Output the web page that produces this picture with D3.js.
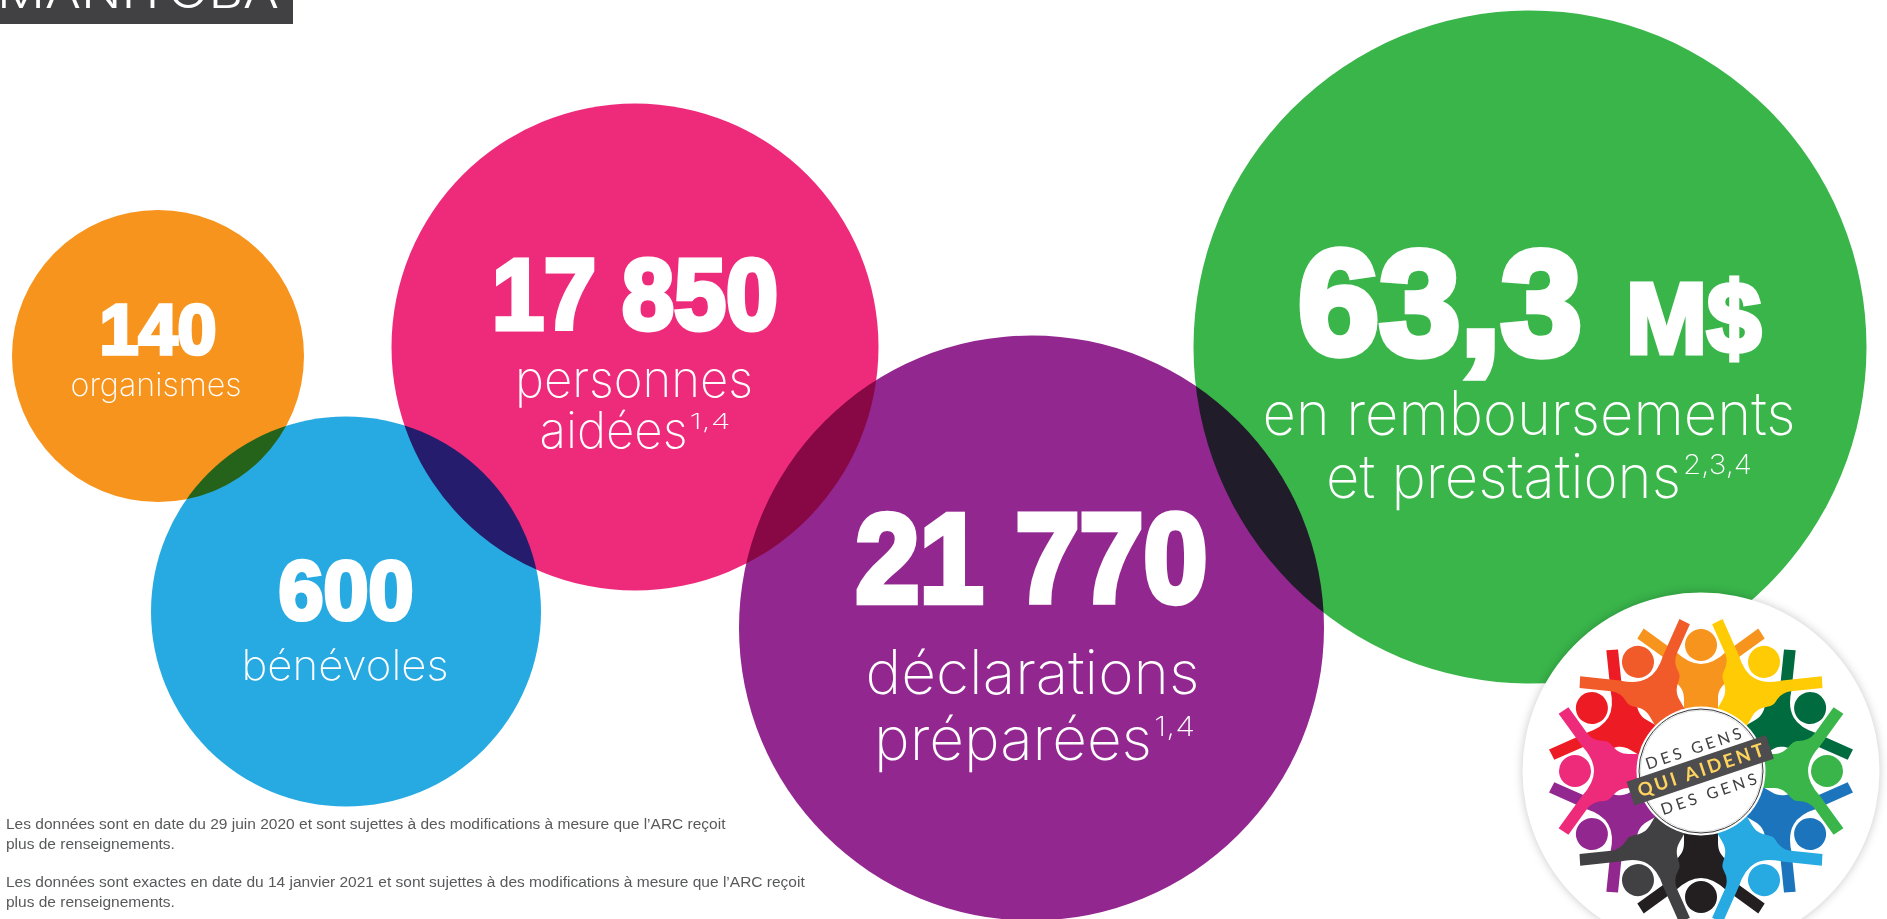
<!DOCTYPE html>
<html lang="fr">
<head>
<meta charset="utf-8">
<title>Manitoba</title>
<script src="https://cdn.jsdelivr.net/npm/d3@7"></script>
<style>
  html, body { margin: 0; background: #fff; overflow: hidden; }
  svg { display: block; }
</style>
</head>
<body>
<div id="chart"></div>
<script>
// data
var province = "MANITOBA";
var categories = ["organismes", "bénévoles", "personnes aidées", "déclarations préparées", "remboursements et prestations"];
var values = [140, 600, 17850, 21770, 63.3];
var valueLabels = ["140", "600", "17 850", "21 770", "63,3"];
var unitLabel = "M$";
var labelLines = [["organismes"], ["bénévoles"], ["personnes", "aidées"], ["déclarations", "préparées"], ["en remboursements", "et prestations"]];
var footnoteMarks = ["", "", "1,4", "1,4", "2,3,4"];
var bubbleColors = ["#f7941d", "#27aae1", "#ee2a7b", "#92278f", "#39b54a"];
var footnotes = [
    ["Les données sont en date du 29 juin 2020 et sont sujettes à des modifications à mesure que l’ARC reçoit", "plus de renseignements."],
    ["Les données sont exactes en date du 14 janvier 2021 et sont sujettes à des modifications à mesure que l’ARC reçoit", "plus de renseignements."]
];
var logoColors = ["#f7941d", "#ffcb05", "#006b3f", "#39b54a", "#1c75bc", "#27aae1", "#231f20", "#414042", "#92278f", "#ee2a7b", "#ed1c24", "#f15a29"];

var svgWidth = 1887;
var svgHeight = 919;

var svg = d3.select("#chart").append("svg")
    .attr("width", svgWidth)
    .attr("height", svgHeight);

svg.append("rect").attr("width", svgWidth).attr("height", svgHeight).attr("fill", "#fff");

// every bubble is placed by its category
var xScale = d3.scaleOrdinal().domain(categories).range([158, 346, 635, 1031.5, 1530]);
var yScale = d3.scaleOrdinal().domain(categories).range([356, 611.5, 347, 628, 347]);
var rScale = d3.scaleOrdinal().domain(categories).range([146, 195, 243.5, 292.5, 336.5]);
var colorScale = d3.scaleOrdinal().domain(categories).range(bubbleColors);

// number text: size, width, baseline below centre
var numSize = d3.scaleOrdinal().domain(categories).range([71, 83, 100, 126, 149]);
var numWidth = d3.scaleOrdinal().domain(categories).range([117, 135, 286, 352, 284]);
var numDy = d3.scaleOrdinal().domain(categories).range([-2, 7, -18, -26, 7]);
// label text
var labelSize = d3.scaleOrdinal().domain(categories).range([33, 42, 50, 61, 61]);
var labelDy = d3.scaleOrdinal().domain(categories).range([40, 68, 50, 66, 88]);
var labelGap = d3.scaleOrdinal().domain(categories).range([0, 0, 51, 66, 63]);
// width of each label line, its shift off the bubble centre, and the width of the mark
var lineWidth = d3.scaleOrdinal()
    .domain(labelLines.flat())
    .range([171, 207, 238, 148, 334, 278, 533, 355]);
var lineShift = d3.scaleOrdinal()
    .domain(labelLines.flat())
    .range([-2, -1, -1, 0, 1, 3, -1, 9]);
var markWidth = d3.scaleOrdinal().domain(categories).range([0, 0, 41, 41, 69]);

var rows = categories.map(function(c, i) {
    return { category: c, value: values[i], text: valueLabels[i], lines: labelLines[i], mark: footnoteMarks[i] };
});

// province tab, cut off by the top of the page
svg.append("rect").attr("width", 293).attr("height", 24).attr("fill", "#414042");
svg.append("text")
    .attr("x", -3).attr("y", 8)
    .attr("font-family", "Inter, sans-serif").attr("font-weight", 300)
    .attr("font-size", 46)
    .attr("textLength", 282).attr("lengthAdjust", "spacingAndGlyphs")
    .attr("fill", "#fff")
    .text(province);

// bubbles
svg.selectAll("circle.bubble")
    .data(rows)
    .join("circle")
    .attr("class", "bubble")
    .attr("cx", d => xScale(d.category))
    .attr("cy", d => yScale(d.category))
    .attr("r", d => rScale(d.category))
    .attr("fill", d => colorScale(d.category))
    .style("mix-blend-mode", "multiply");

// big numbers
var numFont = "'Liberation Sans', Arial, sans-serif";
svg.selectAll("text.num")
    .data(rows)
    .join("text")
    .attr("class", "num")
    .attr("x", d => d.category == categories[4] ? 1298 : xScale(d.category) - numWidth(d.category) / 2)
    .attr("y", d => yScale(d.category) + numDy(d.category))
    .attr("font-family", numFont).attr("font-weight", 700)
    .attr("font-size", d => numSize(d.category))
    .attr("fill", "#fff").attr("stroke", "#fff")
    .attr("stroke-width", d => numSize(d.category) * 0.05)
    .attr("textLength", d => numWidth(d.category))
    .attr("lengthAdjust", "spacingAndGlyphs")
    .text(d => d.text);

svg.append("text")
    .attr("x", 1626).attr("y", 353)
    .attr("font-family", numFont).attr("font-weight", 700)
    .attr("font-size", 100)
    .attr("fill", "#fff").attr("stroke", "#fff").attr("stroke-width", 5)
    .attr("textLength", 135).attr("lengthAdjust", "spacingAndGlyphs")
    .text(unitLabel);

// labels under the numbers, the mark sits right after the last line
var labelFont = "Inter, Roboto, sans-serif";
rows.forEach(function(d) {
    d.lines.forEach(function(line, i) {
        var size = labelSize(d.category);
        var last = d.mark && i == d.lines.length - 1;
        var w = lineWidth(line);
        var total = w + (last ? markWidth(d.category) + 2 : 0);
        var x0 = xScale(d.category) + lineShift(line) - total / 2;
        var y0 = yScale(d.category) + labelDy(d.category) + i * labelGap(d.category);

        svg.append("text")
            .attr("x", x0).attr("y", y0)
            .attr("font-family", labelFont).attr("font-weight", 200)
            .attr("font-size", size)
            .attr("textLength", w).attr("lengthAdjust", "spacingAndGlyphs")
            .attr("fill", "#fff")
            .text(line);

        if (last) {
            svg.append("text")
                .attr("x", x0 + w + 2).attr("y", y0 - size * 0.39)
                .attr("font-family", labelFont).attr("font-weight", 200)
                .attr("font-size", size * 0.44)
                .attr("textLength", markWidth(d.category)).attr("lengthAdjust", "spacingAndGlyphs")
                .attr("fill", "#fff")
                .text(d.mark);
        }
    });
});

// footnotes
var noteY = d3.scaleOrdinal().domain([0, 1]).range([829, 887]);
footnotes.forEach(function(lines, n) {
    lines.forEach(function(line, i) {
        svg.append("text")
            .attr("x", 6)
            .attr("y", noteY(n) + i * 20)
            .attr("font-family", "'Liberation Sans', Arial, sans-serif")
            .attr("font-size", 15.5)
            .attr("fill", "#58595b")
            .text(line);
    });
});

// logo: ring of twelve people holding hands
function personPath() {
    var p = d3.path();
    p.moveTo(-17, -50);
    p.lineTo(-17, -72);
    p.bezierCurveTo(-17, -88, -30, -88, -30, -97);
    p.quadraticCurveTo(-30, -108, -38, -114);
    p.lineTo(-63.7, -132.6);
    p.lineTo(-57.3, -142.4);
    p.lineTo(-25, -119);
    p.quadraticCurveTo(-12, -107, 0, -107);
    p.quadraticCurveTo(12, -107, 25, -119);
    p.lineTo(57.3, -142.4);
    p.lineTo(63.7, -132.6);
    p.lineTo(38, -114);
    p.quadraticCurveTo(30, -108, 30, -97);
    p.bezierCurveTo(30, -88, 17, -88, 17, -72);
    p.lineTo(17, -50);
    p.closePath();
    return p.toString();
}

var logo = svg.append("g").attr("transform", "translate(1701, 771)");

logo.append("circle")
    .attr("r", 178.5)
    .attr("fill", "#fff")
    .style("filter", "drop-shadow(0 0 5px rgba(0,0,0,0.22))");

var angle = d3.scaleLinear().domain([0, logoColors.length]).range([0, 360]);
var people = logoColors.map((c, i) => ({ color: c, i: i }));
// the odd people's arms lie over their neighbours
people.sort((a, b) => (a.i % 2) - (b.i % 2));

var person = logo.selectAll("g.person")
    .data(people)
    .join("g")
    .attr("class", "person")
    .attr("transform", d => `rotate(${angle(d.i)})`);

person.append("path").attr("d", personPath()).attr("fill", d => d.color);
person.append("circle").attr("cy", -126).attr("r", 16).attr("fill", d => d.color);

logo.append("circle").attr("r", 64.5).attr("fill", "#fff");
logo.append("circle").attr("r", 62).attr("fill", "#fff").attr("stroke", "#231f20").attr("stroke-width", 0.9);
logo.append("circle").attr("r", 60.7).attr("fill", "none").attr("stroke", "#a7a9ac").attr("stroke-width", 0.4);

var badge = logo.append("g").attr("transform", "rotate(-18.5)");
badge.append("rect")
    .attr("x", -74).attr("y", -13.5).attr("width", 147).attr("height", 25)
    .attr("fill", "#4d4d4f");
badge.append("text")
    .attr("x", -66).attr("y", 5.5)
    .attr("font-family", "Lato, sans-serif").attr("font-weight", 700).attr("font-size", 18.5)
    .attr("textLength", 132).attr("lengthAdjust", "spacing").attr("fill", "#ffd45e")
    .text("QUI AIDENT");
badge.selectAll("text.des")
    .data([-18, 30])
    .join("text")
    .attr("class", "des")
    .attr("x", -50).attr("y", d => d)
    .attr("font-family", "Lato, sans-serif").attr("font-size", 16)
    .attr("textLength", 100).attr("lengthAdjust", "spacing").attr("fill", "#414042")
    .text("DES GENS");
</script>
</body>
</html>
